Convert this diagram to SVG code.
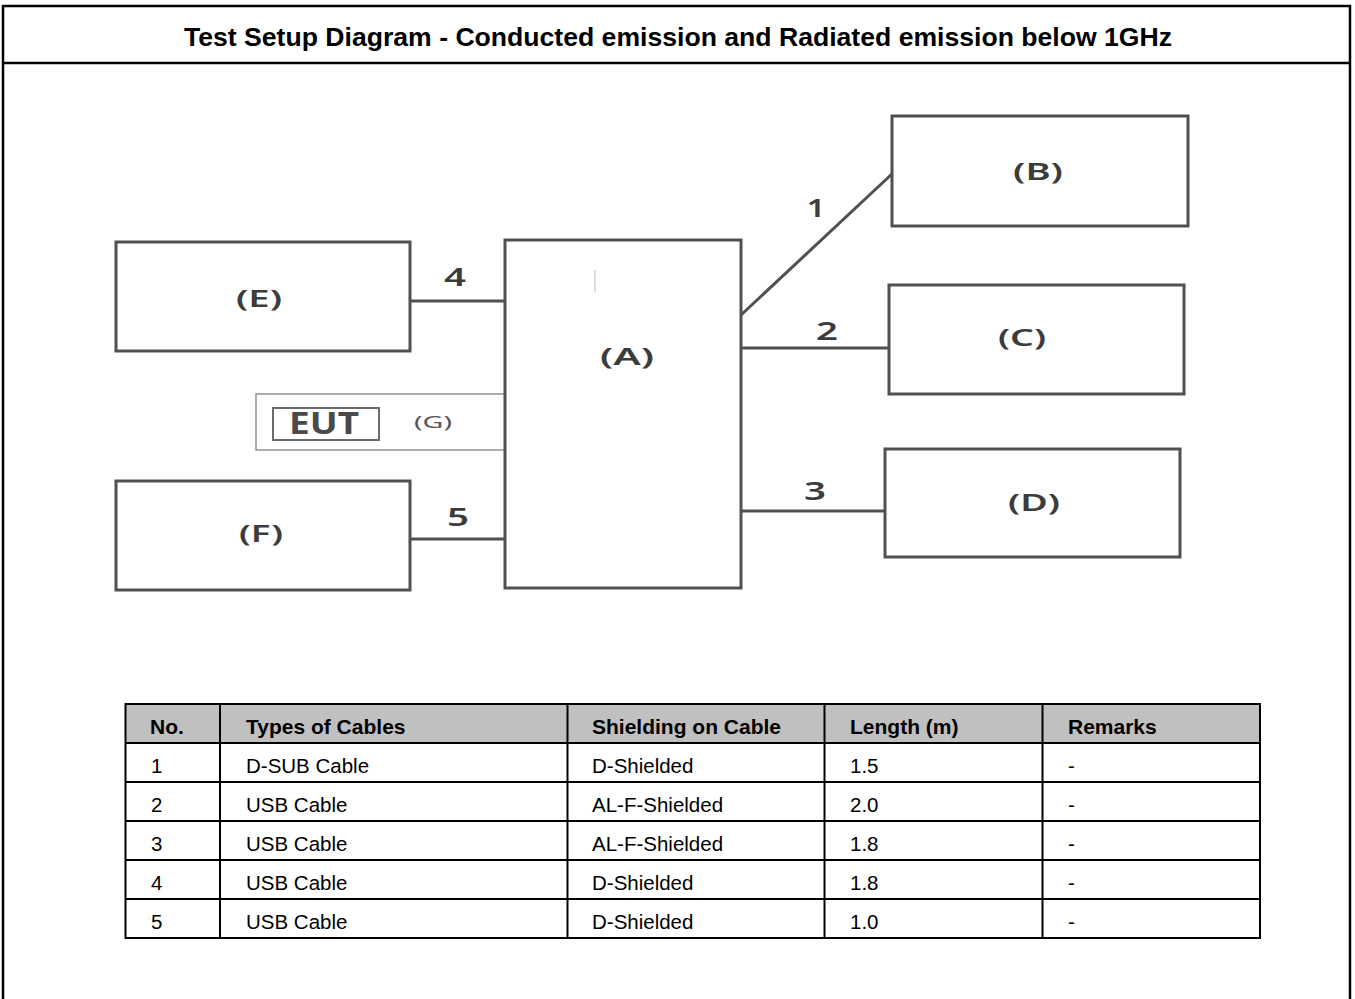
<svg xmlns="http://www.w3.org/2000/svg" width="1355" height="999" viewBox="0 0 1355 999">
<style>
.frame{fill:none;stroke:#000;stroke-width:2.5}
.box{fill:#fff;stroke:#505050;stroke-width:3}
.thin{fill:none;stroke:#9a9a9a;stroke-width:1.6}
.wire{fill:none;stroke:#505050;stroke-width:3}
.lbl{font-family:"Noto Sans","Open Sans",sans-serif;font-weight:600;font-size:24px;fill:#3c3c3c;text-anchor:middle}
.num{font-family:"Noto Sans","Open Sans",sans-serif;font-weight:600;font-size:26px;fill:#3c3c3c;text-anchor:middle}
.title{font-family:"Liberation Sans",Arial,sans-serif;font-weight:bold;font-size:25px;fill:#000;text-anchor:middle}
.th{font-family:"Liberation Sans",Arial,sans-serif;font-weight:bold;font-size:21px;fill:#000}
.td{font-family:"Liberation Sans",Arial,sans-serif;font-size:20.5px;fill:#000}
.grid{fill:none;stroke:#000;stroke-width:2}
</style>
<rect width="1355" height="999" fill="#fff"/>
<g id="frame">
<rect class="frame" x="3" y="6" width="1347" height="1010"/>
<line class="frame" x1="3" y1="63" x2="1350" y2="63"/>
<text class="title" x="678" y="46" textLength="988" lengthAdjust="spacingAndGlyphs">Test Setup Diagram - Conducted emission and Radiated emission below 1GHz</text>
</g>
<g id="connectors">
<line class="wire" x1="410" y1="301" x2="505" y2="301"/>
<line class="wire" x1="410" y1="539" x2="505" y2="539"/>
<line class="wire" x1="741" y1="315" x2="893" y2="173"/>
<line class="wire" x1="741" y1="348" x2="889" y2="348"/>
<line class="wire" x1="741" y1="511" x2="885" y2="511"/>
<text class="num" x="455" y="286" textLength="22" lengthAdjust="spacingAndGlyphs">4</text>
<text class="num" x="458" y="526" textLength="22" lengthAdjust="spacingAndGlyphs">5</text>
<text class="num" x="816" y="217" textLength="19" lengthAdjust="spacingAndGlyphs">1</text>
<text class="num" x="827" y="340" textLength="22" lengthAdjust="spacingAndGlyphs">2</text>
<text class="num" x="815" y="500" textLength="22" lengthAdjust="spacingAndGlyphs">3</text>
</g>
<g id="nodeG">
<rect class="thin" x="256" y="394" width="250" height="56"/>
<rect fill="none" stroke="#6a6a6a" stroke-width="2" x="273" y="408" width="106" height="32"/>
<text x="324" y="434" font-family="Noto Sans,Open Sans,sans-serif" font-weight="bold" font-size="30" fill="#4a4a4a" text-anchor="middle" textLength="70" lengthAdjust="spacingAndGlyphs">EUT</text>
<text x="433" y="428" font-family="Noto Sans,Open Sans,sans-serif" font-size="16" fill="#555" text-anchor="middle" textLength="38" lengthAdjust="spacingAndGlyphs">(G)</text>
</g>
<g id="nodeA">
<rect class="box" x="505" y="240" width="236" height="348"/>
<line x1="595" y1="270" x2="595" y2="292" stroke="#d0d0d0" stroke-width="1.5"/>
<text class="lbl" x="627" y="365" textLength="54" lengthAdjust="spacingAndGlyphs">(A)</text>
</g>
<g id="nodeB">
<rect class="box" x="892" y="116" width="296" height="110"/>
<text class="lbl" x="1038" y="180" textLength="50" lengthAdjust="spacingAndGlyphs">(B)</text>
</g>
<g id="nodeC">
<rect class="box" x="889" y="285" width="295" height="109"/>
<text class="lbl" x="1022" y="346" textLength="48" lengthAdjust="spacingAndGlyphs">(C)</text>
</g>
<g id="nodeD">
<rect class="box" x="885" y="449" width="295" height="108"/>
<text class="lbl" x="1034" y="511" textLength="52" lengthAdjust="spacingAndGlyphs">(D)</text>
</g>
<g id="nodeE">
<rect class="box" x="116" y="242" width="294" height="109"/>
<text class="lbl" x="259" y="307" textLength="46" lengthAdjust="spacingAndGlyphs">(E)</text>
</g>
<g id="nodeF">
<rect class="box" x="116" y="481" width="294" height="109"/>
<text class="lbl" x="261" y="542" textLength="44" lengthAdjust="spacingAndGlyphs">(F)</text>
</g>
<g id="table">
<rect x="125.5" y="704" width="1134.5" height="39" fill="#c0c0c0"/>
<rect class="grid" x="125.5" y="704" width="1134.5" height="234"/>
<line class="grid" x1="125.5" y1="743" x2="1260" y2="743"/>
<line class="grid" x1="125.5" y1="782" x2="1260" y2="782"/>
<line class="grid" x1="125.5" y1="821" x2="1260" y2="821"/>
<line class="grid" x1="125.5" y1="860" x2="1260" y2="860"/>
<line class="grid" x1="125.5" y1="899" x2="1260" y2="899"/>
<line class="grid" x1="220" y1="704" x2="220" y2="938"/>
<line class="grid" x1="567.5" y1="704" x2="567.5" y2="938"/>
<line class="grid" x1="824.5" y1="704" x2="824.5" y2="938"/>
<line class="grid" x1="1042.5" y1="704" x2="1042.5" y2="938"/>
<text class="th" x="150" y="734">No.</text>
<text class="th" x="246" y="734">Types of Cables</text>
<text class="th" x="592" y="734">Shielding on Cable</text>
<text class="th" x="850" y="734">Length (m)</text>
<text class="th" x="1068" y="734">Remarks</text>
<text class="td" x="151" y="773">1</text><text class="td" x="246" y="773">D-SUB Cable</text><text class="td" x="592" y="773">D-Shielded</text><text class="td" x="850" y="773">1.5</text><text class="td" x="1068" y="773">-</text>
<text class="td" x="151" y="812">2</text><text class="td" x="246" y="812">USB Cable</text><text class="td" x="592" y="812">AL-F-Shielded</text><text class="td" x="850" y="812">2.0</text><text class="td" x="1068" y="812">-</text>
<text class="td" x="151" y="851">3</text><text class="td" x="246" y="851">USB Cable</text><text class="td" x="592" y="851">AL-F-Shielded</text><text class="td" x="850" y="851">1.8</text><text class="td" x="1068" y="851">-</text>
<text class="td" x="151" y="890">4</text><text class="td" x="246" y="890">USB Cable</text><text class="td" x="592" y="890">D-Shielded</text><text class="td" x="850" y="890">1.8</text><text class="td" x="1068" y="890">-</text>
<text class="td" x="151" y="929">5</text><text class="td" x="246" y="929">USB Cable</text><text class="td" x="592" y="929">D-Shielded</text><text class="td" x="850" y="929">1.0</text><text class="td" x="1068" y="929">-</text>
</g>
</svg>
